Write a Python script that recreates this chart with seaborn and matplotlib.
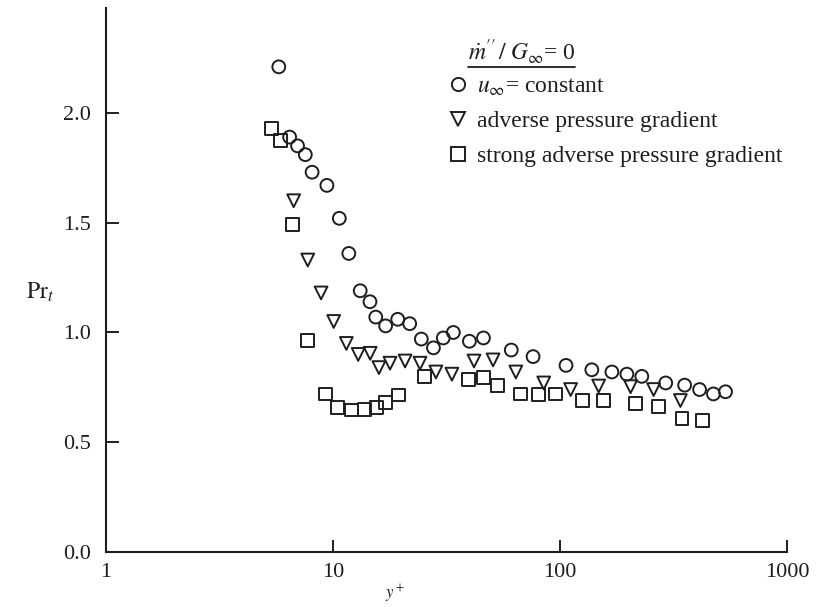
import numpy as np
import pandas as pd
import matplotlib
matplotlib.use("Agg")
import matplotlib.pyplot as plt
from matplotlib.lines import Line2D
import seaborn as sns

# ---- data ----
series_names = ["u_const", "adverse", "strong"]

circ_x = [5.77, 6.44, 6.98, 7.55, 8.09, 9.40, 10.66, 11.74, 13.18, 14.55, 15.43, 17.05,
          19.28, 21.77, 24.5, 27.7, 30.6, 33.9, 39.9, 46.0, 61.0, 76.1, 106.3, 138.1,
          169.3, 197.1, 229.3, 292.2, 354, 412, 474, 536]
circ_y = [2.21, 1.89, 1.85, 1.81, 1.73, 1.67, 1.52, 1.36, 1.19, 1.14, 1.07, 1.03,
          1.06, 1.04, 0.97, 0.93, 0.975, 1.00, 0.96, 0.975, 0.92, 0.89, 0.85, 0.83,
          0.82, 0.81, 0.80, 0.77, 0.76, 0.74, 0.72, 0.73]

tri_x = [6.71, 7.74, 8.86, 10.07, 11.45, 12.91, 14.58, 15.93, 17.83, 20.77, 24.17,
         28.4, 33.4, 41.8, 50.7, 63.9, 84.8, 111.4, 148, 204.6, 258.4, 339.2]
tri_y = [1.60, 1.33, 1.18, 1.05, 0.95, 0.90, 0.905, 0.84, 0.86, 0.87, 0.86,
         0.82, 0.81, 0.87, 0.875, 0.82, 0.77, 0.74, 0.756, 0.753, 0.74, 0.69]

sq_x = [5.38, 5.88, 6.61, 7.71, 9.27, 10.45, 12.04, 13.74, 15.51, 17.02, 19.44, 25.4,
        39.6, 46.2, 53.2, 67.0, 80.4, 95.5, 125.5, 155.3, 214.9, 271, 345, 422.7]
sq_y = [1.93, 1.875, 1.49, 0.965, 0.72, 0.66, 0.647, 0.65, 0.658, 0.68, 0.715, 0.80,
        0.786, 0.794, 0.76, 0.72, 0.716, 0.72, 0.69, 0.69, 0.675, 0.664, 0.607, 0.60]

legend_labels = [r"$u_{\infty}$= constant",
                 "adverse pressure gradient",
                 "strong adverse pressure gradient"]
legend_title = r"$\dot{m}''\,/\;G_{\infty}$= 0"

x_ticks = [1, 10, 100, 1000]
x_ticklabels = ["1", "10", "100", "1000"]
y_ticks = [0.0, 0.5, 1.0, 1.5, 2.0]
y_ticklabels = ["0.0", "0.5", "1.0", "1.5", "2.0"]

# ---- build table ----
df = pd.concat([
    pd.DataFrame({"yplus": circ_x, "Prt": circ_y, "series": series_names[0]}),
    pd.DataFrame({"yplus": tri_x, "Prt": tri_y, "series": series_names[1]}),
    pd.DataFrame({"yplus": sq_x, "Prt": sq_y, "series": series_names[2]}),
], ignore_index=True)

sns.set_style("ticks")
plt.rcParams["font.family"] = ["Liberation Serif", "DejaVu Serif"]
plt.rcParams["mathtext.fontset"] = "stix"

INK = "#1e1e1e"
marker_map = {series_names[0]: "o", series_names[1]: "v", series_names[2]: "s"}

fig = plt.figure(figsize=(8.21, 6.07), dpi=100)
ax = fig.add_axes([106 / 821, 1 - 552 / 607, 681 / 821, 544 / 607])

sns.scatterplot(data=df, x="yplus", y="Prt", style="series", markers=marker_map,
                s=85, facecolor="none", edgecolor=INK, linewidth=1.4,
                legend=False, ax=ax, zorder=3)

ax.set_xscale("log")
ax.set_xlim(1, 1000)
ax.set_ylim(0, 2.478)
ax.set_xticks(x_ticks)
ax.set_xticklabels(x_ticklabels)
ax.xaxis.set_minor_locator(matplotlib.ticker.NullLocator())
ax.set_yticks(y_ticks)
ax.set_yticklabels(y_ticklabels)

for side in ["top", "right"]:
    ax.spines[side].set_visible(False)
for side in ["left", "bottom"]:
    ax.spines[side].set_linewidth(1.5)
    ax.spines[side].set_color(INK)

ax.tick_params(axis="both", direction="in", length=9, width=1.4, color=INK,
               labelsize=16, labelcolor=INK)
ax.tick_params(axis="x", pad=8)
ax.tick_params(axis="y", pad=11)

ax.set_xlabel(r"$y^+$", fontsize=12, color=INK, va="center")
ax.xaxis.set_label_coords((395 - 106) / 681, (552 - 594) / 544)
ax.set_ylabel(r"$\mathrm{Pr}_{t}$", fontsize=17, color=INK, rotation=0,
              ha="center", va="center")
ax.yaxis.set_label_coords((40 - 106) / 681, (552 - 292) / 544)

# legend
handles = [Line2D([], [], linestyle="none", marker=marker_map[n], markersize=9.5,
                  markerfacecolor="none", markeredgecolor=INK, markeredgewidth=1.4)
           for n in series_names]
leg = ax.legend(handles, legend_labels, loc="upper left",
                bbox_to_anchor=(446 / 821, 1 - 76 / 607),
                bbox_transform=fig.transFigure, frameon=False, fontsize=17,
                handlelength=1.0, handletextpad=0.3, labelspacing=0.55,
                borderpad=0, borderaxespad=0)
for t in leg.get_texts():
    t.set_color(INK)

fig.text(468 / 821, 1 - 52 / 607, legend_title, fontsize=17, color=INK,
         ha="left", va="center")
fig.add_artist(Line2D([468 / 821, 575 / 821], [1 - 66.5 / 607] * 2,
                      color=INK, linewidth=1.3, transform=fig.transFigure))

fig.savefig("out.png", dpi=100)
